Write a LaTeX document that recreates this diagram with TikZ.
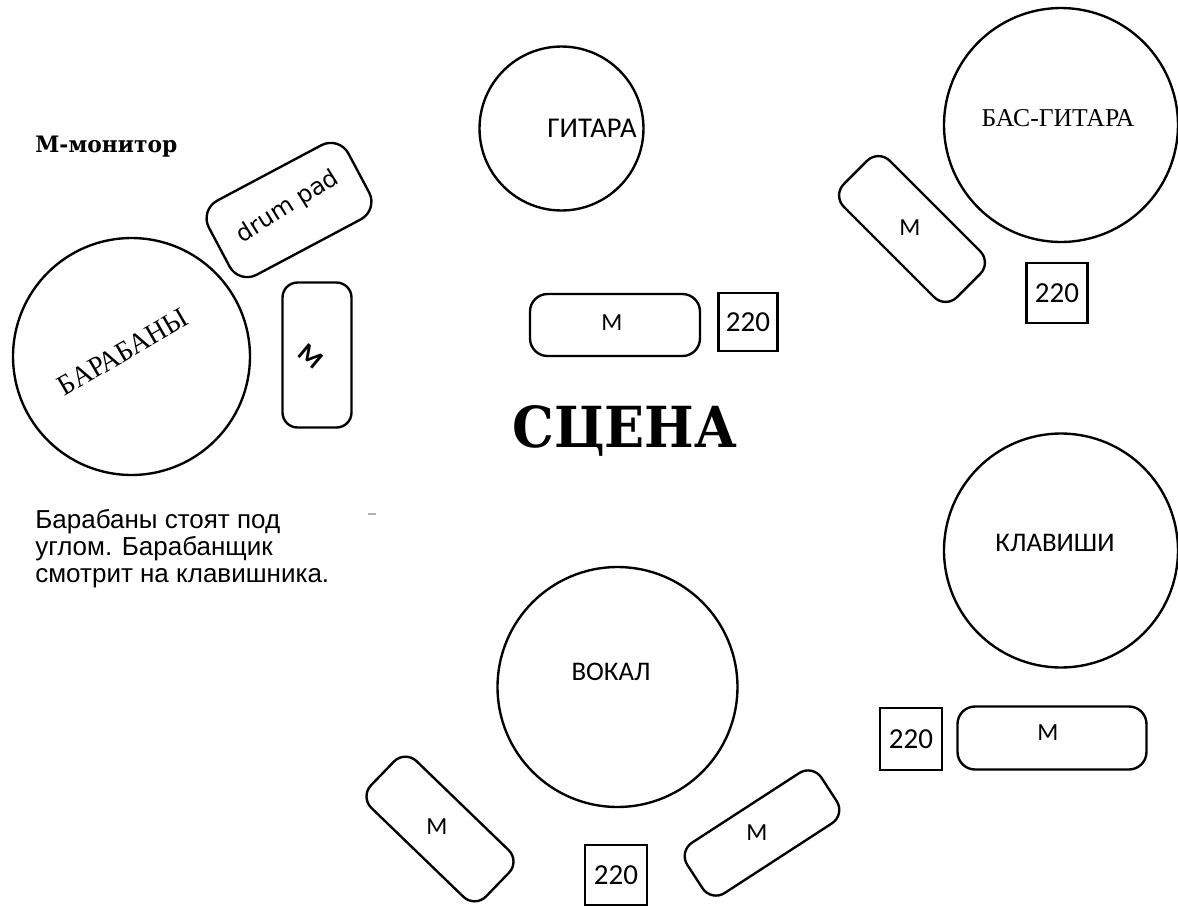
\documentclass[tikz,border=0pt]{standalone}
\usepackage{fontspec}
\usepackage{graphicx}
\setmainfont{Liberation Serif}
\newfontfamily\calfont{Carlito}
\newfontfamily\arialfont{Liberation Sans}
\newfontfamily\dvsfont{DejaVu Sans}
\newfontfamily\heavyfont{DejaVu Serif}
\begin{document}
\begin{tikzpicture}[x=0.02cm,y=-0.02cm,
  stage/.style={circle,draw,line width=1.35pt,inner sep=0pt},
  mon/.style={rectangle,draw,line width=1.35pt,rounded corners=0.32cm,inner sep=0pt},
  sock/.style={rectangle,draw,line width=1.35pt,inner sep=0pt,font=\calfont\fontsize{16.5}{18}\selectfont},
  lbl/.style={font=\calfont\fontsize{15.3}{18}\selectfont,inner sep=0pt},
  mlbl/.style={font=\calfont\fontsize{14}{15}\selectfont,inner sep=0pt},
  serifl/.style={inner sep=0pt},
  note/.style={font=\arialfont\fontsize{14.8}{15.3}\selectfont,inner sep=0pt,anchor=base west}]
\useasboundingbox (0,0) rectangle (1178,907);

% legend
\node[inner sep=0pt,anchor=base west] (legend) at (35,152)
  {\resizebox{2.84cm}{0.33cm}{\heavyfont\bfseries М-монитор}};

% drums
\node[stage,minimum size=4.74cm] (drums) at (131.5,356.5) {};
\node[serifl,rotate=30] (drumsT) at (123,352) {\resizebox{2.9cm}{0.38cm}{БАРАБАНЫ}};
\node[mon,minimum width=3.16cm,minimum height=1.68cm,rounded corners=0.4cm,rotate=28] (pad) at (289,210) {};
\node[inner sep=0pt,font=\dvsfont\fontsize{13.5}{15}\selectfont,rotate=32] (padT) at (288,207) {drum pad};
\node[mon,minimum width=1.38cm,minimum height=2.9cm,rounded corners=0.3cm] (dmon) at (317,355) {};
\node[mlbl,font=\calfont\fontsize{15}{16}\selectfont,rotate=-40] (dmonT) at (311,356) {\textbf{М}};

% guitar
\node[stage,minimum size=3.28cm] (guitar) at (561.5,128.5) {};
\node[lbl,font=\calfont\fontsize{16.3}{18}\selectfont] (guitarT) at (592,128) {ГИТАРА};
\node[mon,minimum width=3.4cm,minimum height=1.24cm,rounded corners=0.35cm] (gmon) at (615,325) {};
\node[mlbl] (gmonT) at (612,323) {М};
\node[sock,minimum width=1.18cm,minimum height=1.16cm] (gsock) at (748,322) {220};

% bass
\node[stage,minimum size=4.68cm] (bass) at (1061,125) {};
\node[serifl] (bassT) at (1058,118) {\resizebox{3.06cm}{0.34cm}{БАС-ГИТАРА}};
\node[mon,minimum width=3.2cm,minimum height=1.3cm,rounded corners=0.32cm,rotate=-45] (bmon) at (912,229) {};
\node[mlbl] (bmonT) at (910,228) {М};
\node[sock,minimum width=1.22cm,minimum height=1.2cm] (bsock) at (1057,293) {220};

% stage title
\node[inner sep=0pt,anchor=base west] (scene) at (512,447)
  {\resizebox{4.5cm}{0.84cm}{\heavyfont\bfseries СЦЕНА}};

% note
\node[note] (note1) at (35,528) {Барабаны стоят под};
\node[note] (note2) at (35,555) {углом. Барабанщик};
\node[note] (note3) at (35,582) {смотрит на клавишника.};
\draw[gray!60,line width=0.6pt] (368,514) -- (376,514);

% keys
\node[stage,minimum size=4.68cm] (keys) at (1061,550.5) {};
\node[lbl] (keysT) at (1055,543) {КЛАВИШИ};
\node[sock,minimum width=1.24cm,minimum height=1.24cm] (ksock) at (911,739) {220};
\node[mon,minimum width=3.78cm,minimum height=1.26cm,rounded corners=0.35cm] (kmon) at (1052,738) {};
\node[mlbl] (kmonT) at (1048,733) {М};

% vocal
\node[stage,minimum size=4.8cm] (vocal) at (617.5,687) {};
\node[lbl] (vocalT) at (611,672) {ВОКАЛ};
\node[mon,minimum width=3.2cm,minimum height=1.3cm,rounded corners=0.32cm,rotate=-44] (vmonL) at (440,829) {};
\node[mlbl] (vmonLT) at (437,827) {М};
\node[mon,minimum width=3.2cm,minimum height=1.2cm,rounded corners=0.32cm,rotate=33] (vmonR) at (762,833) {};
\node[mlbl] (vmonRT) at (757,833) {М};
\node[sock,minimum width=1.24cm,minimum height=1.2cm] (vsock) at (616,875) {\raisebox{-0.1cm}{220}};
\end{tikzpicture}
\end{document}
